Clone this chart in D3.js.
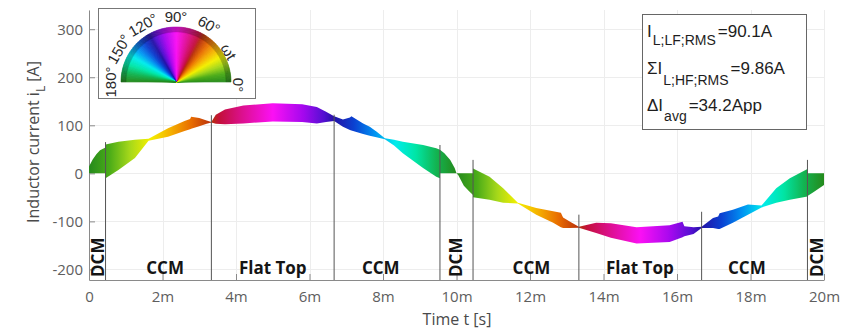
<!DOCTYPE html>
<html>
<head>
<meta charset="utf-8">
<script src="https://cdn.jsdelivr.net/npm/d3@7"></script>
<style>
  body { margin: 0; background: #ffffff; }
  svg { display: block; }
</style>
</head>
<body>
<svg id="chart" width="844" height="330"></svg>
<script>
// ---- axis ticks (time in ms, current in A) ----
const xTicks = [0, 2, 4, 6, 8, 10, 12, 14, 16, 18, 20];
const xTickLabels = ["0", "2m", "4m", "6m", "8m", "10m", "12m", "14m", "16m", "18m", "20m"];
const yTicks = [-200, -100, 0, 100, 200, 300];
const yTickLabels = ["-200", "-100", "0", "100", "200", "300"];

// ---- inductor current ripple envelope: time [ms], upper / lower edge [A] ----
const envTime = [
  0.00, 0.10, 0.20, 0.30, 0.45,
  0.45, 0.80, 1.25, 1.62, 2.15, 2.60, 2.75, 2.78, 3.00, 3.20, 3.33,
  3.45, 3.70, 4.20, 5.00, 5.80, 6.20, 6.45, 6.67,
  6.91, 7.10, 7.14, 7.46, 7.64, 7.82, 8.05, 8.30, 8.54, 9.09, 9.45, 9.55,
  9.55, 9.67, 9.83, 9.95, 10.00, 10.05, 10.20, 10.35, 10.45,
  10.45, 10.90, 11.27, 11.67, 12.17, 12.63, 12.84, 12.90, 13.08, 13.33,
  13.80, 14.20, 14.90, 15.80, 16.15, 16.20, 16.45, 16.67,
  16.98, 17.12, 17.16, 17.52, 17.93, 18.30, 18.70, 19.07, 19.55,
  19.55, 19.70, 19.85, 20.00
];
const envUpper = [
  14, 29, 40, 48, 54,
  60, 66, 70, 72, 94, 109, 113, 118, 115, 110, 107,
  122, 133, 141, 146, 144, 138, 128, 119,
  112, 116, 119, 104, 97, 87, 73, 70, 66, 59, 52, 49,
  49, 42, 28, 11, 0, 0, 0, 0, 0,
  10, -7, -31, -61, -72, -79, -82, -92, -100, -111,
  -103, -104, -112, -108, -101, -110, -112, -111,
  -93, -90, -83, -76, -65, -67, -31, -10, 9,
  0, 0, 0, 0
];
const envLower = [
  0, 0, 0, 0, 0,
  -10, 7, 32, 68, 76, 88, 92, 93, 98, 103, 106,
  103, 102, 104, 108, 107, 104, 107, 109,
  97, 90, 89, 82, 78, 75, 71, 58, 42, 11, -7, -10,
  0, 0, 0, 0, 0, -4, -26, -38, -45,
  -50, -55, -61, -63, -86, -103, -112, -114, -114, -113,
  -124, -134, -146, -143, -133, -131, -126, -114,
  -114, -116, -116, -103, -86, -71, -61, -55, -48,
  -47, -40, -32, -24
];

// ---- operating mode boundaries and labels ----
const boundaryTime = [0.45, 3.33, 6.67, 9.55, 10.45, 13.33, 16.67, 19.55];
const boundaryTop = [65, 121, 122, 59, 28, -86, -80, 28];
const modeNames = ["DCM", "CCM", "Flat Top", "CCM", "DCM", "CCM", "Flat Top", "CCM", "DCM"];
const modeTime = [0.24, 2.07, 5.0, 7.94, 9.98, 12.04, 14.99, 17.9, 19.8];
const modeVertical = [true, false, false, false, true, false, false, false, true];

// ---- phase colour map (angle of ωt in degrees, folded to 0..180) ----
const colorAngles = [0, 10, 20, 30, 40, 50, 60, 64, 75, 90, 105, 115, 120, 130, 140, 150, 160, 170, 180];
const colorValues = ["#258a1c", "#4aab18", "#a6d81a", "#f4f000", "#f5b000", "#e86c00", "#b8300c",
  "#c3103c", "#dc108e", "#fb10f4", "#a408ee", "#5410d2", "#2412a6", "#0a42d2", "#0092f2",
  "#00ecec", "#00e6a6", "#12b452", "#258a1c"];
const wheelLabels = ["0°", "ωt", "60°", "90°", "120°", "150°", "180°"];
const wheelAngles = [0, 30, 60, 90, 120, 150, 180];

// ---- summary values ----
const infoMain = ["I", "ΣI", "ΔI"];
const infoSub = ["L;LF;RMS", "L;HF;RMS", "avg"];
const infoValue = ["=90.1A", "=9.86A", "=34.2App"];

// ---------------------------------------------------------------
const svg = d3.select("#chart");
const x = d3.scaleLinear().domain([0, 20]).range([89, 824]);
const y = d3.scaleLinear().domain([-222, 340]).range([280, 10]);

const phaseScale = d3.scaleLinear().domain(colorAngles).range(colorValues)
  .interpolate(d3.interpolateRgb);
const phaseColor = deg => phaseScale(((deg % 180) + 180) % 180);

const tickFont = "'Open Sans', 'Liberation Sans', sans-serif";

// grid
const grid = svg.append("g").attr("stroke", "#ededed").attr("stroke-width", 1);
grid.selectAll(".gx").data(xTicks).join("line")
  .attr("x1", d => Math.round(x(d)) + 0.5).attr("x2", d => Math.round(x(d)) + 0.5)
  .attr("y1", y.range()[1]).attr("y2", y.range()[0]);
grid.selectAll(".gy").data(yTicks).join("line")
  .attr("x1", x.range()[0]).attr("x2", x.range()[1])
  .attr("y1", d => Math.round(y(d)) + 0.5).attr("y2", d => Math.round(y(d)) + 0.5);

// axes with inward ticks
const xAxis = d3.axisBottom(x).tickValues(xTicks).tickSizeInner(-6).tickSizeOuter(0)
  .tickPadding(11).tickFormat((d, i) => xTickLabels[i]);
const yAxis = d3.axisLeft(y).tickValues(yTicks).tickSizeInner(-6).tickSizeOuter(0)
  .tickPadding(6).tickFormat((d, i) => yTickLabels[i]);

const gx = svg.append("g").attr("transform", `translate(0,${y.range()[0]})`).call(xAxis);
const gy = svg.append("g").attr("transform", `translate(${x.range()[0]},0)`).call(yAxis);
[gx, gy].forEach(g => {
  g.select(".domain").attr("stroke", "#8a8a8a");
  g.selectAll(".tick line").attr("stroke", "#8a8a8a");
  g.selectAll(".tick text").attr("fill", "#5e5e5e").attr("font-size", 15)
    .attr("font-family", tickFont);
});

// phase gradient along the time axis
const defs = svg.append("defs");
const grad = defs.append("linearGradient").attr("id", "phaseGrad")
  .attr("gradientUnits", "userSpaceOnUse")
  .attr("x1", x(0)).attr("x2", x(20)).attr("y1", 0).attr("y2", 0);
d3.range(0, 20.0001, 0.05).forEach(t => {
  grad.append("stop").attr("offset", t / 20).attr("stop-color", phaseColor(18 * t));
});

// current ripple band
const idx = d3.range(envTime.length);
const band = d3.area()
  .x(i => x(envTime[i]))
  .y0(i => y(envLower[i]))
  .y1(i => y(envUpper[i]));
svg.append("path").datum(idx).attr("d", band).attr("fill", "url(#phaseGrad)");

// mode boundaries
svg.append("g").selectAll("line").data(boundaryTime).join("line")
  .attr("x1", d => x(d)).attr("x2", d => x(d))
  .attr("y1", y.range()[0]).attr("y2", (d, i) => y(boundaryTop[i]))
  .attr("stroke", "#555").attr("stroke-width", 1);

// mode labels
const modes = svg.append("g").attr("font-family", "'Open Sans', sans-serif")
  .attr("font-weight", 700).attr("font-size", 17).attr("fill", "#151515");
modeNames.forEach((name, i) => {
  if (modeVertical[i]) {
    modes.append("text")
      .attr("transform", `translate(${x(modeTime[i])},277) rotate(-90)`)
      .attr("dominant-baseline", "central")
      .attr("text-anchor", "start").text(name);
  } else {
    modes.append("text").attr("x", x(modeTime[i])).attr("y", 274)
      .attr("text-anchor", "middle").text(name);
  }
});

// axis titles
svg.append("text").attr("x", 457).attr("y", 325).attr("text-anchor", "middle")
  .attr("font-family", tickFont).attr("font-size", 16).attr("fill", "#4a4a4a")
  .text("Time t [s]");
const yl = svg.append("text").attr("transform", "translate(39,142) rotate(-90)")
  .attr("text-anchor", "middle").attr("font-family", tickFont)
  .attr("font-size", 16).attr("fill", "#4a4a4a");
yl.append("tspan").text("Inductor current i");
yl.append("tspan").attr("dy", 6).attr("font-size", 12).text("L");
yl.append("tspan").attr("dy", -6).text(" [A]");

// ---- phase wheel legend ----
const lg = svg.append("g");
lg.append("rect").attr("x", 98.5).attr("y", 8.5).attr("width", 157).attr("height", 90)
  .attr("fill", "#fff").attr("stroke", "#777").attr("stroke-width", 1);
const wc = lg.append("g").attr("transform", "translate(176,82)");
const rad = Math.PI / 180;
const wedge = d3.arc();
d3.range(0, 180, 1).forEach(a => {
  const c = phaseColor(a + 0.5);
  const s = (90 - a - 1) * rad, e = (90 - a) * rad;
  wc.append("path").attr("d", wedge({innerRadius: 0, outerRadius: 50, startAngle: s, endAngle: e}))
    .attr("fill", c).attr("stroke", c).attr("stroke-width", 0.6);
  const dk = d3.color(c).darker(0.8);
  wc.append("path").attr("d", wedge({innerRadius: 50, outerRadius: 55, startAngle: s, endAngle: e}))
    .attr("fill", dk).attr("stroke", dk).attr("stroke-width", 0.6);
});
wheelLabels.forEach((lab, i) => {
  const th = wheelAngles[i];
  const r = th === 0 ? 62 : (th === 30 ? 61 : 66);
  const px = r * Math.cos(th * rad), py = -r * Math.sin(th * rad) + (th === 0 ? 3 : 0);
  wc.append("text")
    .attr("transform", `translate(${px},${py}) rotate(${90 - th})`)
    .attr("text-anchor", "middle").attr("dominant-baseline", "central")
    .attr("font-family", "'Liberation Sans', Arial, sans-serif").attr("font-size", 15)
    .attr("fill", "#2a2a2a").text(lab);
});

// ---- summary box ----
const ib = svg.append("g").attr("font-family", "'Liberation Sans', Arial, sans-serif").attr("fill", "#1e1e1e");
ib.append("rect").attr("x", 642.5).attr("y", 14.5).attr("width", 164).attr("height", 115)
  .attr("fill", "#fff").attr("stroke", "#666").attr("stroke-width", 1);
const baseY = [37, 74, 111];
const subDrop = [8, 11, 10];
infoMain.forEach((m, i) => {
  const t1 = ib.append("text").attr("x", 647).attr("y", baseY[i]).attr("font-size", 17).text(m);
  const w1 = t1.node().getComputedTextLength();
  const t2 = ib.append("text").attr("x", 647 + w1 + 1).attr("y", baseY[i] + subDrop[i])
    .attr("font-size", 14).text(infoSub[i]);
  const w2 = t2.node().getComputedTextLength();
  ib.append("text").attr("x", 647 + w1 + 1 + w2 + 2).attr("y", baseY[i])
    .attr("font-size", 17).text(infoValue[i]);
});
</script>
</body>
</html>
